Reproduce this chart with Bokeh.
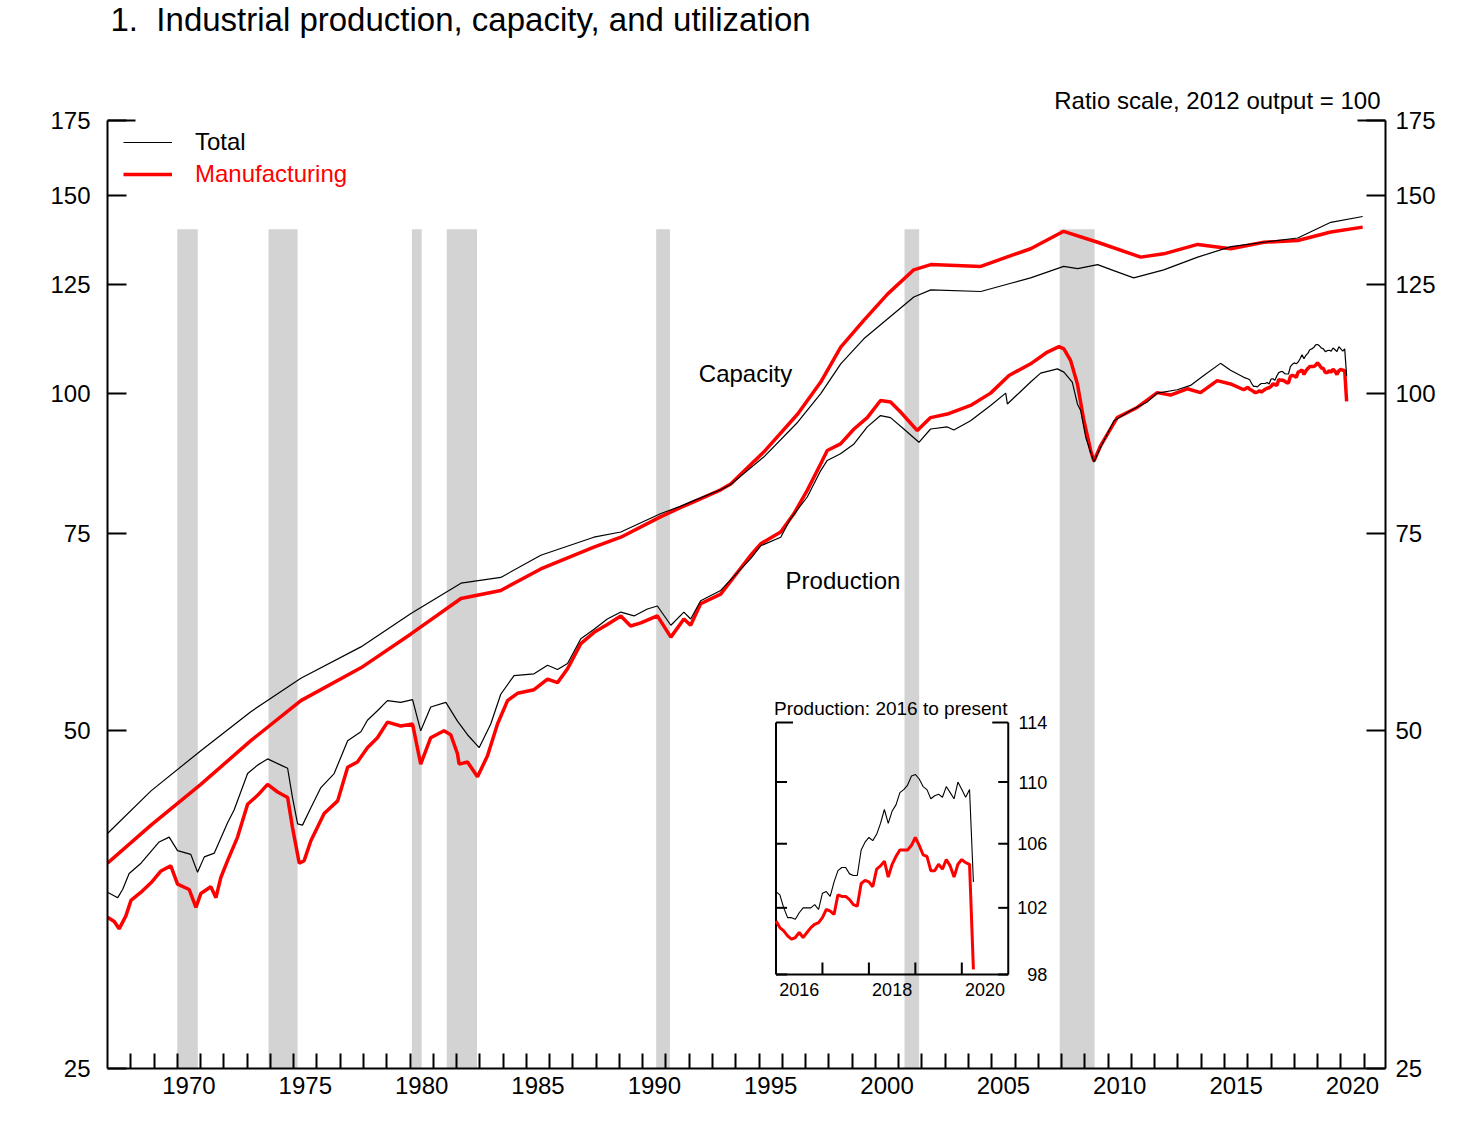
import math
from bokeh.plotting import figure
from bokeh.models import (Range1d, LogScale, LinearScale, LinearAxis, LogAxis, FixedTicker,
                          PrintfTickFormatter, CustomJSTickFormatter, Legend, LegendItem, Grid)
from bokeh.embed import file_html
from bokeh.resources import INLINE
from bokeh.core.properties import value

FONT = "Liberation Sans"

# ---------------- data ----------------
tot_prod_years = [1967.0, 1967.44, 1967.65, 1967.93, 1968.44, 1969.22, 1969.65, 1970.01, 1970.58, 1970.87,
                  1971.16, 1971.59, 1972.16, 1972.44, 1973.02, 1973.45, 1973.88, 1974.45, 1974.74, 1974.95,
                  1975.17, 1975.38, 1975.74, 1976.17, 1976.74, 1977.32, 1977.89, 1978.17, 1978.60, 1979.03,
                  1979.60, 1980.11, 1980.46, 1980.89, 1981.54, 1982.04, 1982.47, 1982.97, 1983.47, 1983.90,
                  1984.47, 1985.33, 1985.91, 1986.34, 1986.77, 1987.34, 1987.91, 1988.48, 1989.06, 1989.63,
                  1990.20, 1990.63, 1991.21, 1991.77, 1992.06, 1992.49, 1993.35, 1994.64, 1995.07, 1995.93,
                  1996.36, 1997.07, 1997.65, 1997.93, 1998.50, 1999.08, 1999.65, 2000.22, 2000.65, 2001.22,
                  2001.87, 2002.37, 2003.09, 2003.37, 2004.09, 2004.95, 2005.60, 2005.67, 2006.67, 2007.10,
                  2007.82, 2008.10, 2008.46, 2008.68, 2008.82, 2009.04, 2009.39, 2009.68, 2010.25, 2010.97,
                  2011.68, 2012.11, 2012.97, 2013.54, 2014.11, 2014.83, 2015.26, 2015.83]
tot_prod = [35.9, 35.5, 36.1, 37.3, 38.1, 39.8, 40.2, 39.1, 38.8, 37.4,
            38.6, 38.9, 41.4, 42.5, 45.8, 46.6, 47.2, 46.6, 46.3, 43.6,
            41.3, 41.2, 42.7, 44.5, 45.8, 49.0, 49.9, 51.1, 52.1, 53.2,
            53.0, 53.3, 50.0, 52.5, 53.0, 51.0, 49.6, 48.3, 50.7, 53.9,
            56.0, 56.2, 57.2, 56.7, 57.4, 60.4, 61.6, 62.9, 63.8, 63.3,
            64.2, 64.6, 62.1, 63.8, 62.9, 65.3, 66.7, 71.2, 73.1, 74.4,
            77.3, 80.8, 85.3, 87.1, 88.3, 90.1, 93.3, 95.5, 95.1, 92.9,
            90.4, 92.9, 93.3, 92.7, 94.5, 97.5, 100.0, 97.8, 102.3, 104.2,
            105.1, 104.4, 102.3, 97.8, 96.5, 91.3, 86.8, 89.5, 94.5, 96.5,
            98.2, 100.0, 100.7, 101.6, 103.7, 106.3, 104.8, 103.3]

mfg_prod_years = [1967.0, 1967.29, 1967.50, 1967.79, 1968.01, 1968.44, 1968.87, 1969.30, 1969.72, 1970.01,
                  1970.51, 1970.80, 1971.01, 1971.44, 1971.66, 1971.87, 1972.16, 1972.59, 1973.02, 1973.45,
                  1973.88, 1974.31, 1974.74, 1974.95, 1975.24, 1975.45, 1975.74, 1976.31, 1976.89, 1977.32,
                  1977.74, 1978.17, 1978.60, 1979.03, 1979.60, 1980.11, 1980.46, 1980.89, 1981.46, 1981.75,
                  1982.04, 1982.11, 1982.47, 1982.90, 1983.33, 1983.76, 1984.19, 1984.62, 1985.33, 1985.91,
                  1986.34, 1986.77, 1987.34, 1987.91, 1988.48, 1989.06, 1989.48, 1989.92, 1990.63, 1991.21,
                  1991.77, 1992.06, 1992.49, 1993.35, 1994.64, 1995.07, 1995.93, 1996.50, 1997.07, 1997.65,
                  1997.93, 1998.50, 1999.08, 1999.65, 2000.22, 2000.65, 2001.08, 2001.80, 2002.37, 2003.09,
                  2004.09, 2004.95, 2005.74, 2006.67, 2007.39, 2007.89, 2008.10, 2008.39, 2008.68, 2008.96,
                  2009.25, 2009.39, 2009.68, 2010.39, 2011.25, 2012.11, 2012.68, 2013.40, 2013.97, 2014.69,
                  2015.26, 2015.83]
mfg_prod = [34.1, 33.8, 33.3, 34.2, 35.3, 35.9, 36.6, 37.5, 37.9, 36.5,
            36.1, 34.8, 35.8, 36.3, 35.5, 37.0, 38.3, 40.2, 43.0, 43.8,
            44.8, 44.1, 43.6, 41.0, 38.1, 38.3, 39.9, 42.2, 43.3, 46.4,
            46.9, 48.3, 49.3, 50.9, 50.5, 50.7, 46.7, 49.3, 50.0, 49.6,
            47.7, 46.7, 46.9, 45.5, 47.5, 50.7, 53.2, 54.0, 54.4, 55.6,
            55.2, 56.8, 59.8, 61.2, 62.2, 63.3, 62.0, 62.4, 63.3, 60.6,
            62.9, 62.1, 64.9, 66.2, 71.7, 73.4, 75.2, 78.1, 81.9, 86.5,
            88.9, 90.1, 92.9, 95.1, 98.5, 98.2, 96.2, 92.6, 95.1, 95.8,
            97.5, 100.0, 103.7, 106.2, 108.8, 110.0, 109.5, 106.9, 101.9, 94.5,
            88.9, 87.0, 89.8, 95.1, 97.1, 100.1, 99.6, 100.9, 100.1, 102.6,
            101.9, 100.7]

tot_cap_years = [1967.0, 1968.87, 1971.01, 1973.16, 1975.31, 1977.89, 1980.04, 1982.19, 1983.90, 1985.62,
                 1987.90, 1989.06, 1990.78, 1991.64, 1992.19, 1993.35, 1993.78, 1995.20, 1996.66, 1997.65,
                 1998.51, 1999.50, 2000.53, 2001.65, 2002.38, 2004.53, 2005.82, 2006.67, 2008.09, 2008.69,
                 2009.55, 2010.24, 2011.10, 2012.39, 2013.85, 2015.27, 2016.69, 2018.15, 2019.57, 2020.94]
tot_cap = [40.5, 44.2, 48.0, 52.0, 55.7, 59.4, 63.6, 67.7, 68.5, 71.7,
           74.4, 75.2, 78.1, 79.3, 80.2, 82.0, 82.9, 87.7, 94.2, 99.9,
           106.2, 111.8, 116.5, 121.8, 123.6, 123.2, 125.3, 126.7, 129.7, 129.1,
           130.2, 128.6, 126.7, 128.8, 132.2, 135.1, 136.3, 137.5, 142.0, 143.7]

mfg_cap_years = [1967.0, 1968.87, 1971.01, 1973.16, 1975.31, 1977.89, 1980.04, 1982.19, 1983.90, 1985.62,
                 1987.90, 1989.06, 1990.78, 1991.64, 1992.19, 1993.35, 1993.78, 1995.20, 1996.66, 1997.65,
                 1998.51, 1999.50, 2000.53, 2001.65, 2002.38, 2004.53, 2005.82, 2006.67, 2008.09, 2009.55,
                 2011.40, 2012.39, 2013.85, 2015.27, 2016.69, 2018.15, 2019.57, 2020.94]
mfg_cap = [38.1, 41.2, 44.8, 49.0, 53.2, 56.9, 61.0, 65.6, 66.7, 69.7,
           72.9, 74.4, 77.6, 79.1, 80.0, 82.0, 83.0, 88.6, 95.8, 102.3,
           109.9, 116.1, 122.6, 128.8, 130.2, 129.7, 132.6, 134.5, 139.4, 136.3,
           132.2, 133.1, 135.7, 134.5, 136.3, 136.8, 139.2, 140.6]

# monthly, Jan 2016 .. Apr 2020
recent_tot = [103.0, 102.8, 102.0, 101.4, 101.4, 101.3, 101.7, 102.0, 102.0, 102.0, 102.2, 101.9,
              102.9, 103.0, 102.7, 103.6, 104.3, 104.5, 104.5, 104.1, 104.0, 104.0, 105.6, 106.1,
              106.4, 106.2, 106.6, 107.3, 108.2, 107.3, 108.1, 108.5, 109.3, 109.5, 109.8, 110.4,
              110.5, 110.2, 109.7, 109.5, 108.9, 109.1, 109.2, 109.0, 109.7, 109.3, 108.9, 110.0,
              109.5, 109.0, 109.5, 103.6]
recent_mfg = [101.2, 100.8, 100.6, 100.3, 100.1, 100.2, 100.5, 100.2, 100.5, 100.8, 101.0, 101.1,
              101.4, 101.9, 101.8, 101.6, 102.8, 102.7, 102.7, 102.5, 102.2, 102.1, 103.5, 103.7,
              103.6, 103.3, 104.4, 104.6, 104.9, 103.9, 104.7, 105.2, 105.6, 105.6, 105.6, 105.9,
              106.4, 105.9, 105.3, 105.2, 104.3, 104.3, 104.7, 104.4, 105.0, 104.6, 103.9, 104.7,
              105.0, 104.8, 104.7, 98.3]
recent_start = 2016

rec_start = [1970.0, 1973.92, 1980.08, 1981.58, 1990.58, 2001.25, 2007.92]
rec_end = [1970.88, 1975.17, 1980.5, 1982.88, 1991.17, 2001.88, 2009.42]

y_ticks = [25, 50, 75, 100, 125, 150, 175]
x_label_years = [1970, 1975, 1980, 1985, 1990, 1995, 2000, 2005, 2010, 2015, 2020]
x_tick_years = list(range(1968, 2022))
inset_y_ticks = [98, 102, 106, 110, 114]
inset_x_ticks = [2017, 2018, 2019, 2020]
inset_x_labels = [2016, 2018, 2020]
inset_x_span = (2016, 2021)

TITLE = "1.\u00a0 Industrial production, capacity, and utilization"
NOTE = "Ratio scale, 2012 output = 100"

# ---------------- derived series ----------------
recent_x = [recent_start + i / 12 for i in range(len(recent_tot))]
tp_x = tot_prod_years + recent_x
tp_y = tot_prod + recent_tot
mp_x = mfg_prod_years + recent_x
mp_y = mfg_prod + recent_mfg

# ---------------- layout constants ----------------
W, H = 1464, 1130
FL, FR, FB = 107, 1385, 1068      # frame left/right/bottom in px (frame top = canvas top)
CT = 120                          # pixel row of the 175 tick (top of the chart box)
X_START, X_END = 1967.0, 2021.92
Y_START, Y_TOPTICK = 25, 175
Y_END = Y_TOPTICK * (Y_TOPTICK / Y_START) ** (CT / (FB - CT))
SHADE_TOP = 140
IL, IR, IB, IT = 775.5, 1007.75, 974, 722   # inset box in pixels

sx = (IR - IL) / (inset_x_span[1] - inset_x_span[0])
ix0 = inset_x_span[0] - (IL - FL) / sx
ix1 = inset_x_span[1] + (FR - IR) / sx
ky = (IB - IT) / math.log(inset_y_ticks[-1] / inset_y_ticks[0])
iy0 = inset_y_ticks[0] * math.exp(-(FB - IB) / ky)
iy1 = inset_y_ticks[0] * math.exp(IB / ky)

p = figure(width=W, height=H, x_range=Range1d(X_START, X_END), y_range=Range1d(Y_START, Y_END),
           y_axis_type="log", x_axis_location=None, y_axis_location=None,
           output_backend="svg", toolbar_location=None,
           min_border_left=FL, min_border_right=W - FR, min_border_top=0, min_border_bottom=H - FB)
p.outline_line_color = None
p.background_fill_color = "white"
p.border_fill_color = "white"
for g in p.select(type=Grid):
    g.visible = False

p.extra_x_ranges = {"inset": Range1d(ix0, ix1)}
p.extra_x_scales = {"inset": LinearScale()}
p.extra_y_ranges = {"inset": Range1d(iy0, iy1)}
p.extra_y_scales = {"inset": LogScale()}

# ---------------- axes ----------------
xb = LinearAxis(ticker=FixedTicker(ticks=[y + 0.5 for y in x_label_years], minor_ticks=x_tick_years),
                formatter=CustomJSTickFormatter(code="return String(Math.floor(tick));"))
xb.axis_line_width = 2
xb.major_tick_in = 0
xb.major_tick_out = 0
xb.minor_tick_in = 15
xb.minor_tick_out = 0
xb.minor_tick_line_width = 2
xb.major_label_standoff = 8
xb.major_label_text_font = FONT
xb.major_label_text_font_size = "24px"
xb.major_label_text_color = "black"
p.add_layout(xb, "below")

for side, standoff in (("left", 17), ("right", 10)):
    ax = LogAxis(ticker=FixedTicker(ticks=y_ticks, minor_ticks=[]),
                 formatter=PrintfTickFormatter(format="%d"), bounds=(Y_START, Y_TOPTICK))
    ax.axis_line_width = 2
    ax.major_tick_in = 19
    ax.major_tick_out = 0
    ax.major_tick_line_width = 2
    ax.minor_tick_in = 0
    ax.minor_tick_out = 0
    ax.major_label_standoff = standoff
    ax.major_label_text_font = FONT
    ax.major_label_text_font_size = "24px"
    ax.major_label_text_color = "black"
    p.add_layout(ax, side)

# longer top ticks at 175
p.ray(x=[X_START], y=[Y_TOPTICK], length=28, length_units="screen", angle=0, line_width=2, line_color="black")
p.ray(x=[X_END], y=[Y_TOPTICK], length=28, length_units="screen", angle=math.pi, line_width=2, line_color="black")

# ---------------- titles (inside the frame, above the chart box) ----------------
p.text(x=[X_START], y=[Y_TOPTICK], text=[TITLE], x_offset=3, y_offset=-101,
       text_align="left", text_baseline="middle", text_font=value(FONT), text_font_size="33px",
       text_color="black")
p.text(x=[X_END], y=[Y_TOPTICK], text=[NOTE], x_offset=-5, y_offset=-20,
       text_align="right", text_baseline="middle", text_font=value(FONT), text_font_size="24px",
       text_color="black")

# ---------------- recession shading ----------------
p.quad(left=rec_start, right=rec_end, bottom=Y_START, top=SHADE_TOP,
       fill_color="#d3d3d3", line_color=None)

# ---------------- main lines ----------------
r_mcap = p.line(mfg_cap_years, mfg_cap, line_color="#ff0000", line_width=3.5)
r_mprod = p.line(mp_x, mp_y, line_color="#ff0000", line_width=3.5)
r_tcap = p.line(tot_cap_years, tot_cap, line_color="black", line_width=1.2)
r_tprod = p.line(tp_x, tp_y, line_color="black", line_width=1.2)

p.text(x=[1992.41, 1996.14], y=[104.1, 68.1], text=["Capacity", "Production"],
       text_font=value(FONT), text_font_size="24px", text_color="black",
       text_align="left", text_baseline="middle")

# ---------------- inset ----------------
ik = dict(x_range_name="inset", y_range_name="inset")
x0i, x1i = inset_x_span
y0i, y1i = inset_y_ticks[0], inset_y_ticks[-1]
p.segment(x0=[x0i, x1i, x0i], y0=[y0i, y0i, y0i], x1=[x0i, x1i, x1i], y1=[y1i, y1i, y0i],
          line_color="black", line_width=2, **ik)
p.ray(x=[x0i] * len(inset_y_ticks), y=inset_y_ticks,
      length=[11] * (len(inset_y_ticks) - 1) + [17], length_units="screen",
      angle=0, line_width=2, line_color="black", **ik)
p.ray(x=[x1i] * len(inset_y_ticks), y=inset_y_ticks,
      length=[10] * (len(inset_y_ticks) - 1) + [16], length_units="screen",
      angle=math.pi, line_width=2, line_color="black", **ik)
p.ray(x=inset_x_ticks, y=[y0i] * len(inset_x_ticks), length=12, length_units="screen",
      angle=math.pi / 2, line_width=2, line_color="black", **ik)
p.text(x=[x1i] * len(inset_y_ticks), y=inset_y_ticks, text=[str(v) for v in inset_y_ticks],
       x_offset=39, text_align="right", text_baseline="middle",
       text_font=value(FONT), text_font_size="18px", text_color="black", **ik)
p.text(x=[v + 0.5 for v in inset_x_labels], y=[y0i] * len(inset_x_labels),
       text=[str(v) for v in inset_x_labels], y_offset=15, text_align="center",
       text_baseline="middle", text_font=value(FONT), text_font_size="18px",
       text_color="black", **ik)
p.text(x=[x0i], y=[y1i], text=["Production: 2016 to present"], x_offset=-2, y_offset=-14,
       text_align="left", text_baseline="middle", text_font=value(FONT),
       text_font_size="19px", text_color="black", **ik)
p.line(recent_x, recent_mfg, line_color="#ff0000", line_width=3, **ik)
p.line(recent_x, recent_tot, line_color="black", line_width=1.1, **ik)

# ---------------- legend ----------------
for label, rend, color, ypos in (("Total", r_tprod, "black", 912), ("Manufacturing", r_mprod, "#ff0000", 880)):
    lg = Legend(items=[LegendItem(label=label, renderers=[rend])], location=(16, ypos))
    lg.border_line_color = None
    lg.background_fill_alpha = 0
    lg.padding = 0
    lg.margin = 0
    lg.spacing = 0
    lg.glyph_width = 49
    lg.glyph_height = 26
    lg.label_height = 26
    lg.label_standoff = 23
    lg.label_text_font = FONT
    lg.label_text_font_size = "24px"
    lg.label_text_color = color
    p.add_layout(lg, "center")

open("out.html", "w").write(file_html(p, INLINE))
